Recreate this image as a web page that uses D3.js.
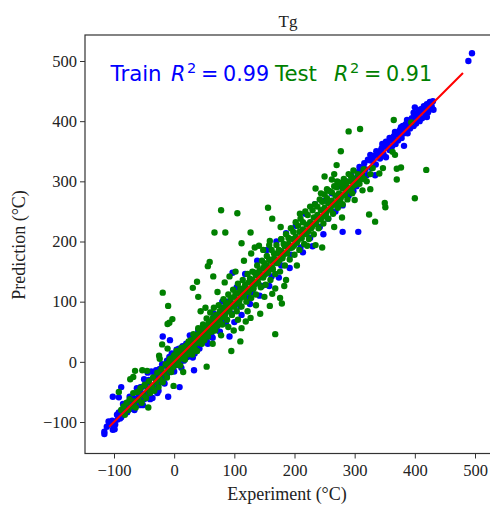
<!DOCTYPE html>
<html>
<head>
<meta charset="utf-8">
<script src="https://cdn.jsdelivr.net/npm/d3@7"></script>
<style>
  html, body { margin: 0; padding: 0; background: #fff; }
  svg { display: block; }
  text { font-family: "Liberation Serif", serif; fill: #222; }
</style>
</head>
<body>
<svg id="chart" width="490" height="505"></svg>
<script>
const xTicks = [-100, 0, 100, 200, 300, 400, 500];
const yTicks = [-100, 0, 100, 200, 300, 400, 500];
const fitLine = [[-108, -108], [480, 480]];

// [experiment, prediction]
const trainPoints = [
  [495, 513], [489, 500], [431, 419], [420, 407], [400, 423], [382, 359], [334, 310], [280, 216], [306, 216],
  [-116, -116], [-116, -120], [-102, -113], [-99, -112], [-109, -99], [-103, -98], [-112, -108], [-106, -104],
  [-98, -104], [-94, -96], [-90, -94], [-86, -88], [-84, -80], [-80, -84], [-88, -42], [-102, -58], [-92, -59],
  [-78, -74], [-76, -68], [-72, -70], [-70, -78], [-68, -60], [-64, -68], [-62, -44], [-60, -60], [-58, -72],
  [-56, -42], [-54, -52], [-50, -29], [-50, -62], [-48, -40], [-46, -54], [-44, -18], [-42, -30], [-40, -44],
  [-38, -16], [-36, -60], [-34, -26], [-32, -38], [-30, -14], [-28, -28], [-26, -48], [-24, -12], [-22, -24],
  [-19, 42], [-20, -4], [-18, -30], [-16, -6], [-14, -18], [-12, 2], [-10, -58], [-10, -8], [-7, 36], [-8, 8],
  [-6, -14], [-4, 14], [-2, 0], [0, 6], [2, -6], [4, 20], [6, 8], [9, -42], [8, 22], [10, -2], [12, 14], [14, 26],
  [18, 10], [20, 30], [24, 18], [28, 38], [31, 7], [33, -14], [36, 26], [40, 52], [44, 30], [48, 60], [54, 36],
  [58, 66], [62, 48], [66, 80], [70, 56], [74, 74], [80, 100], [84, 70], [88, 100], [92, 42], [97, 148], [96, 80],
  [104, 124], [110, 92], [118, 146], [124, 106], [130, 116], [138, 168], [146, 126], [154, 186], [162, 142],
  [170, 200], [178, 160], [186, 214], [194, 178], [202, 226], [210, 190], [218, 246], [226, 206], [234, 262],
  [242, 224], [250, 268], [256, 238], [262, 280], [268, 250], [274, 292], [280, 260], [286, 300], [290, 276],
  [294, 310], [298, 284], [300, 305], [305, 315], [303, 292], [310, 318], [312, 305], [316, 330], [320, 310],
  [322, 336], [325, 335], [328, 322], [332, 342], [335, 328], [338, 345], [342, 338], [344, 352], [345, 355],
  [348, 345], [350, 360], [352, 340], [355, 365], [358, 352], [360, 370], [362, 358], [365, 375], [368, 362],
  [370, 380], [372, 368], [375, 385], [378, 372], [380, 392], [382, 380], [385, 395], [388, 380], [390, 398],
  [392, 388], [395, 405], [398, 392], [400, 410], [402, 396], [405, 412], [408, 400], [410, 420], [412, 405],
  [415, 425], [418, 412], [420, 428], [422, 415], [425, 432], [428, 425], [430, 433], [424, 420],
  [308, 324], [314, 322], [318, 320], [326, 344], [330, 334], [336, 350], [340, 348], [346, 362], [352, 366],
  [354, 356], [358, 372], [363, 368], [367, 382], [372, 378], [377, 390], [383, 388], [387, 402], [393, 396],
  [398, 414], [404, 404], [407, 418], [413, 416], [417, 420], [421, 424],
  [-95, -88], [-92, -84], [-88, -92], [-85, -70], [-82, -76], [-78, -84], [-74, -58], [-70, -64], [-66, -80],
  [-62, -66], [-58, -56], [-54, -42], [-52, -72], [-48, -56], [-44, -34], [-40, -62], [-36, -44], [-32, -22],
  [-28, -52], [-24, -34], [-20, -18], [-16, -36], [-12, -22], [-8, -2], [-4, -12], [0, -16], [3, 12], [12, -10],
  [16, 2], [22, 8], [26, 44], [34, 14], [42, 22], [56, 30], [64, 40], [76, 50], [86, 64], [100, 66], [112, 78],
  [126, 96], [142, 110], [158, 126], [174, 140], [192, 156], [214, 182], [230, 192], [248, 212]
];

const testPoints = [
  [78, 252], [105, 247], [156, 256], [163, 238], [177, 224], [67, 215], [85, 215], [127, 215], [112, 197],
  [141, 193], [159, 201], [158, 194], [178, 204], [365, 402], [394, 398], [290, 383], [309, 387], [277, 350],
  [270, 327], [250, 308], [266, 312], [262, 303], [271, 300], [235, 288], [254, 287], [244, 280], [419, 319],
  [377, 323], [370, 321], [370, 303], [400, 272], [350, 264], [351, 257], [324, 245], [334, 233], [313, 285],
  [326, 287], [300, 269], [279, 240], [266, 224], [246, 190], [235, 194], [221, 193], [209, 246], [363, 349],
  [367, 344], [341, 313], [347, 322], [-19, 115], [-10, 93], [-3, 71], [-8, 65], [-11, 63], [-20, 29], [-11, 22],
  [-25, 10], [-24, 5], [-65, -15], [-53, -14], [-45, -15], [-68, -25], [-73, -29], [-92, -50], [-43, -76],
  [-1, -40], [15, -17], [54, -8], [95, 18], [110, 34], [168, 46], [112, 56], [99, 52], [38, 133], [31, 123],
  [40, 108], [59, 166], [56, 159], [65, 142], [183, 126], [163, 113], [176, 106], [179, 97], [159, 93], [143, 80],
  [127, 73], [119, 67],
  [-88, -80], [-84, -74], [-82, -88], [-79, -68], [-76, -80], [-74, -62], [-71, -74], [-68, -52], [-66, -66],
  [-64, -76], [-61, -50], [-59, -63], [-56, -44], [-54, -68], [-51, -55], [-49, -38], [-47, -60], [-44, -46],
  [-42, -32], [-40, -52], [-37, -40], [-35, -26], [-33, -48], [-30, -33], [-28, -18], [-26, -42], [-23, -28],
  [-21, -12], [-19, -34], [-16, -19], [-14, -4], [-12, -26], [-9, -12], [-7, 5], [-5, -17], [-3, 0],
  [-8, 2], [-6, -12], [-4, 6], [-2, -9], [0, 11], [2, -3], [4, 18], [6, -5], [8, 12], [10, -6], [12, 23], [14, 6],
  [16, 15], [18, 4], [20, 27], [22, 12], [24, 34], [26, 16], [28, 20], [30, 12], [32, 46], [34, 22], [36, 40],
  [38, 18], [40, 56], [42, 33], [44, 52], [46, 30], [48, 62], [50, 36], [52, 54], [54, 72], [56, 42], [58, 60],
  [60, 82], [62, 50], [64, 66], [66, 90], [68, 52], [70, 78], [72, 60], [74, 94], [76, 70], [78, 84], [80, 62],
  [82, 104], [84, 76], [86, 98], [88, 70], [90, 112], [92, 84], [94, 106], [96, 78], [98, 120], [100, 92],
  [102, 114], [104, 84], [106, 130], [108, 100], [110, 122], [112, 92], [114, 136], [116, 108], [118, 128],
  [120, 100], [122, 146], [124, 116], [126, 138], [128, 106], [130, 150], [132, 122], [134, 148], [136, 112],
  [138, 160], [140, 130], [142, 152], [144, 124], [146, 168], [148, 140], [150, 164], [152, 128], [154, 176],
  [156, 148], [158, 170], [160, 136], [162, 186], [164, 154], [166, 180], [168, 146], [170, 194], [172, 164],
  [174, 186], [176, 150], [178, 204], [180, 172], [182, 196], [184, 160], [186, 212], [188, 180], [190, 206],
  [192, 170], [194, 222], [196, 190], [198, 216], [200, 178], [202, 232], [204, 198], [206, 226], [208, 186],
  [210, 238], [212, 206], [214, 232], [216, 196], [218, 250], [220, 212], [222, 244], [224, 204], [226, 258],
  [228, 222], [230, 252], [232, 212], [234, 262], [236, 230], [238, 258], [240, 222], [242, 270], [244, 238],
  [246, 266], [248, 230], [250, 278], [252, 244], [254, 272], [256, 238], [258, 284], [260, 254], [262, 282],
  [264, 246], [266, 292], [268, 262], [270, 290], [272, 256], [274, 298], [276, 270], [278, 296], [280, 262],
  [282, 304], [284, 278], [286, 300], [288, 270], [290, 312], [292, 286], [294, 308], [296, 280], [298, 318],
  [300, 294], [304, 300], [308, 296], [312, 312], [316, 304], [320, 300], [326, 312], [330, 322],
  [-5, -2], [-2, 4], [1, -1], [4, 9], [7, 3], [10, 16], [13, 9], [16, 24], [19, 14], [22, 28], [25, 20], [28, 36],
  [31, 27], [34, 42], [37, 31], [40, 46], [43, 39], [46, 53], [49, 44], [52, 60], [55, 50], [58, 66], [61, 55],
  [64, 72], [67, 62], [70, 76], [73, 69], [76, 84], [79, 74], [82, 90], [85, 80], [88, 94], [91, 87], [94, 100],
  [97, 92], [100, 108], [103, 97], [106, 114], [109, 104], [112, 118], [115, 111], [118, 124], [121, 116],
  [124, 132], [127, 121], [130, 136], [133, 128], [136, 144], [139, 133], [142, 148], [145, 141], [148, 156],
  [151, 145], [154, 160], [157, 152], [160, 168], [163, 157], [166, 172], [169, 165], [172, 180], [175, 169],
  [178, 184], [181, 177], [184, 192], [187, 181], [190, 196], [193, 189], [196, 204], [199, 193], [202, 208],
  [205, 201], [208, 216], [211, 205], [214, 220], [217, 213], [220, 228], [223, 217], [226, 232], [229, 225],
  [232, 240], [235, 229], [238, 244], [241, 237], [244, 252], [247, 241], [250, 256], [253, 249], [256, 264],
  [259, 253], [262, 268], [265, 261], [268, 276], [271, 265], [274, 280], [277, 273], [280, 288], [283, 277],
  [286, 292], [289, 285], [292, 300], [295, 289], [298, 304], [301, 297], [305, 312], [310, 304], [315, 320],
  [44, 84], [52, 90], [72, 116], [84, 132], [92, 142], [102, 150], [116, 168], [128, 180], [134, 190], [148, 186],
  [64, 30], [78, 44], [90, 58], [106, 70], [122, 84], [136, 94], [150, 108], [168, 122], [186, 136], [204, 160]
];

const svg = d3.select('#chart');
const x = d3.scaleLinear().domain([-100, 500]).range([114, 475]);
const y = d3.scaleLinear().domain([-100, 500]).range([422, 61]);
const left = 85;
const right = 490;
const top_ = 35;
const bottom = 453.5;

const plot = svg.append('g');

// train first, test on top of it, fit line last
plot.selectAll('.train')
  .data(trainPoints)
  .enter()
  .append('circle')
  .attr('class', 'train')
  .attr('cx', d => x(d[0]))
  .attr('cy', d => y(d[1]))
  .attr('r', 3.2)
  .attr('fill', '#0000ff');

plot.selectAll('.test')
  .data(testPoints)
  .enter()
  .append('circle')
  .attr('class', 'test')
  .attr('cx', d => x(d[0]))
  .attr('cy', d => y(d[1]))
  .attr('r', 3.2)
  .attr('fill', '#008000');

plot.append('path')
  .attr('d', d3.line().x(d => x(d[0])).y(d => y(d[1]))(fitLine))
  .attr('fill', 'none')
  .attr('stroke', '#ff0000')
  .attr('stroke-width', 2);

svg.append('rect')
  .attr('x', left)
  .attr('y', top_)
  .attr('width', right - left + 2)
  .attr('height', bottom - top_)
  .attr('fill', 'none')
  .attr('stroke', '#333')
  .attr('stroke-width', 1.2);

const xAxis = svg.append('g')
  .attr('transform', `translate(0,${bottom})`)
  .call(d3.axisBottom(x).tickValues(xTicks).tickSize(5).tickPadding(6).tickSizeOuter(0));
const yAxis = svg.append('g')
  .attr('transform', `translate(${left},0)`)
  .call(d3.axisLeft(y).tickValues(yTicks).tickSize(5).tickPadding(3).tickSizeOuter(0));

[xAxis, yAxis].forEach((a) => {
  a.select('.domain').remove();
  a.selectAll('line').attr('stroke', '#333');
  a.selectAll('text').style('font-family', '"Liberation Serif", serif').style('font-size', '16.5px').attr('fill', '#222');
});

svg.append('text')
  .attr('x', 288)
  .attr('y', 27)
  .attr('text-anchor', 'middle')
  .style('font-size', '17px')
  .text('Tg');

svg.append('text')
  .attr('x', 287)
  .attr('y', 500)
  .attr('text-anchor', 'middle')
  .style('font-size', '18px')
  .text('Experiment (°C)');

svg.append('text')
  .attr('transform', 'translate(25,245) rotate(-90)')
  .attr('text-anchor', 'middle')
  .style('font-size', '18px')
  .text('Prediction (°C)');

function r2Label(xPos, colour, name, rX, value) {
  const t = svg.append('g').attr('fill', colour);
  const add = (px, py, size, str, italic) => {
    t.append('text')
      .attr('x', px)
      .attr('y', py)
      .style('font-family', '"DejaVu Sans", sans-serif')
      .style('font-size', `${size}px`)
      .style('font-style', italic ? 'italic' : 'normal')
      .style('fill', colour)
      .text(str);
  };
  add(xPos, 81, 21.3, name, false);
  add(rX, 81, 20.7, 'R', true);
  add(rX + 16, 73, 14.5, '2', false);
  add(rX + 30, 81, 20.7, '=', false);
  add(rX + 52, 81, 20.7, value, false);
}

r2Label(110.5, '#0000ff', 'Train', 171, '0.99');
r2Label(275, '#008000', 'Test', 334, '0.91');
</script>
</body>
</html>
